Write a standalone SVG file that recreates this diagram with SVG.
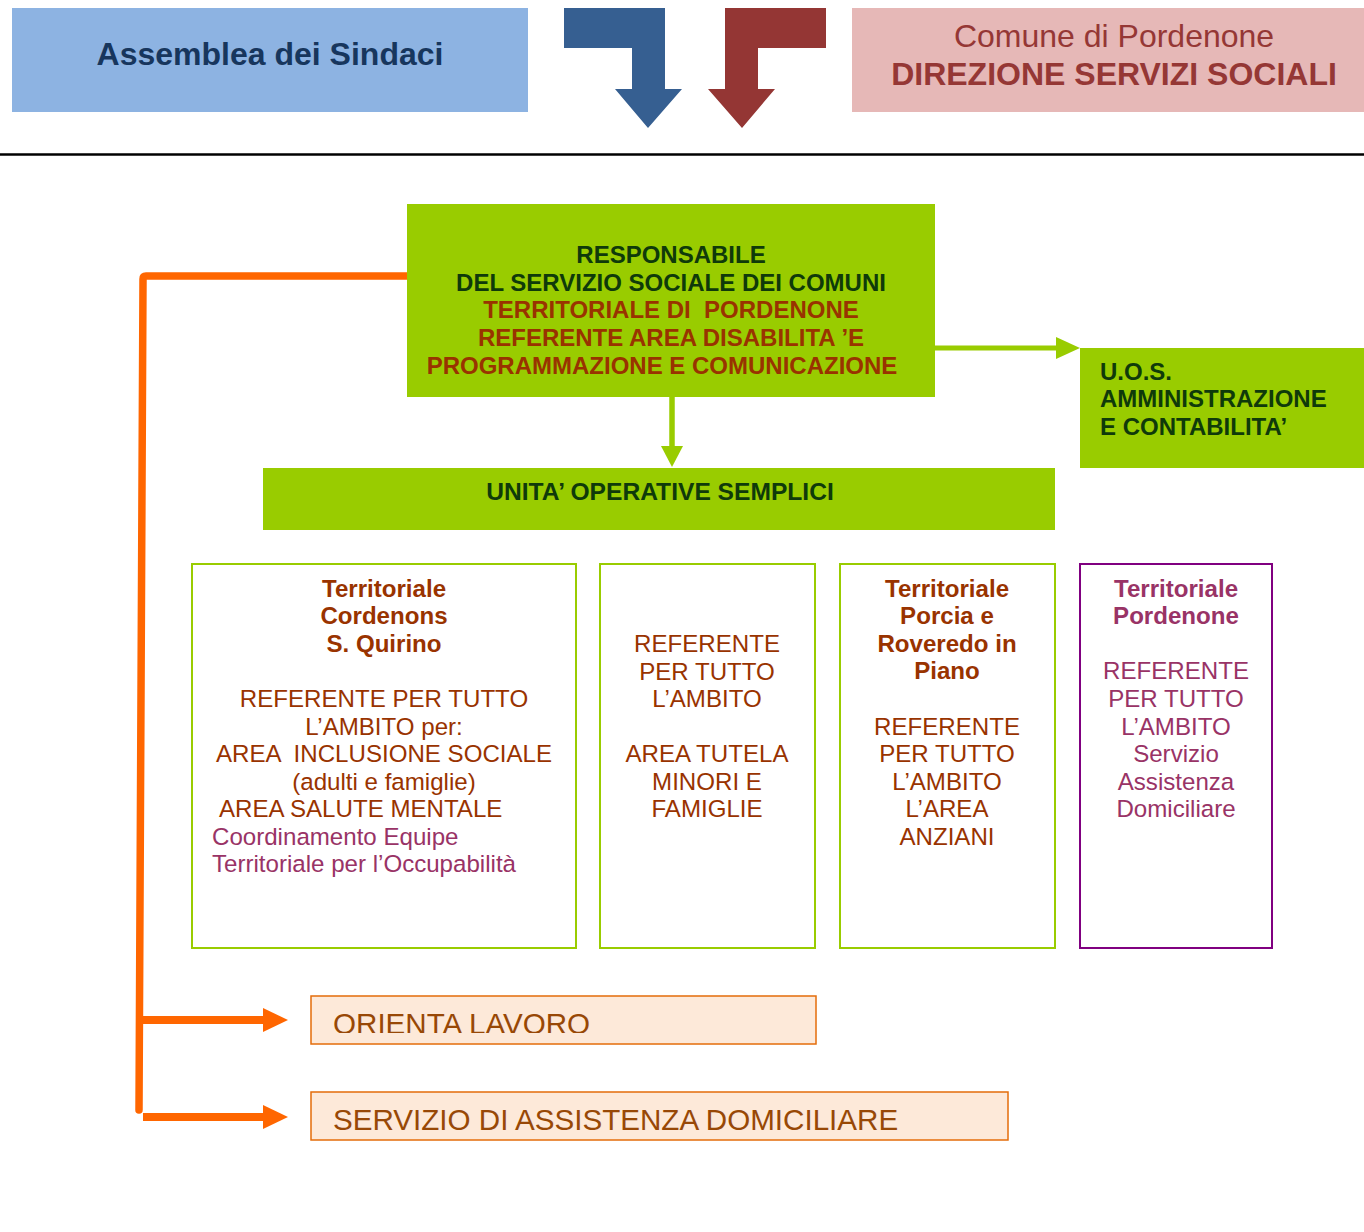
<svg xmlns="http://www.w3.org/2000/svg" width="1364" height="1232" viewBox="0 0 1364 1232">
<style>
text{font-family:"Liberation Sans",Arial,sans-serif}
.b{font-weight:bold}
.c{text-anchor:middle}
.dg{fill:#0F3A0A}
.br{fill:#993300}
.pu{fill:#993366}
.green{fill:#99CC00}
.ubox{fill:#fff;stroke:#99CC00;stroke-width:2}
.obox{fill:#FDE9D9;stroke:#E46C0A;stroke-width:1.5}
.f24{font-size:24.1px}
.f23{font-size:24px}
.f29{font-size:29.6px}
</style>
<defs>
<clipPath id="clipOL"><rect x="311" y="996" width="506" height="37"/></clipPath>
</defs>
<rect width="1364" height="1232" fill="#fff"/>

<g id="assemblea">
<rect x="12" y="8" width="516" height="104" fill="#8DB3E2"/>
<text x="270" y="65" class="b c" font-size="32" fill="#17365D">Assemblea dei Sindaci</text>
</g>
<g id="arrow-blue">
<polygon points="564,8 665,8 665,89 682,89 648,128 615,89 632,89 632,48 564,48" fill="#365F91"/>
</g>
<g id="arrow-red">
<polygon points="826,8 725,8 725,89 708,89 742,128 775,89 758,89 758,48 826,48" fill="#943634"/>
</g>
<g id="comune">
<rect x="852" y="8" width="512" height="104" fill="#E6B8B7"/>
<text x="1114" y="47" class="c" font-size="32" fill="#953735">Comune di Pordenone</text>
<text x="1114" y="85" class="b c" font-size="32" fill="#953735">DIREZIONE SERVIZI SOCIALI</text>
</g>
<line x1="0" y1="154.5" x2="1364" y2="154.5" stroke="#000" stroke-width="2.5"/>

<g id="connectors">
<path d="M407,276 H146 Q143,276 143,279 L139,1110" fill="none" stroke="#FF6600" stroke-width="7.5" stroke-linecap="round" stroke-linejoin="round"/>
<line x1="143" y1="1020" x2="265" y2="1020" stroke="#FF6600" stroke-width="8"/>
<polygon points="263,1008 288,1020 263,1032" fill="#FF6600"/>
<line x1="143" y1="1117" x2="265" y2="1117" stroke="#FF6600" stroke-width="8"/>
<polygon points="263,1105 288,1117 263,1129" fill="#FF6600"/>
<line x1="935" y1="348" x2="1060" y2="348" stroke="#99CC00" stroke-width="5"/>
<polygon points="1056,337 1080,348 1056,359" fill="#99CC00"/>
<line x1="672" y1="397" x2="672" y2="450" stroke="#99CC00" stroke-width="5.5"/>
<polygon points="661,446 683,446 672,467" fill="#99CC00"/>
</g>

<g id="responsabile">
<rect x="407" y="204" width="528" height="193" class="green"/>
<text x="671" y="263" class="b c dg f23">RESPONSABILE</text>
<text x="671" y="291" class="b c dg f23">DEL SERVIZIO SOCIALE DEI COMUNI</text>
<text x="671" y="318" class="b c br f23" xml:space="preserve">TERRITORIALE DI  PORDENONE</text>
<text x="671" y="346" class="b c br f23">REFERENTE AREA DISABILITA ’E</text>
<text x="662" y="374" class="b c br f23">PROGRAMMAZIONE E COMUNICAZIONE</text>
</g>

<g id="uos">
<rect x="1080" y="348" width="284" height="120" class="green"/>
<text x="1100" y="380" class="b dg f23">U.O.S.</text>
<text x="1100" y="407" class="b dg f23">AMMINISTRAZIONE</text>
<text x="1100" y="435" class="b dg f23">E CONTABILITA’</text>
</g>

<g id="unita">
<rect x="263" y="468" width="792" height="62" class="green"/>
<text x="660" y="500" class="b c dg" font-size="24.6">UNITA’ OPERATIVE SEMPLICI</text>
</g>

<g id="cordenons">
<rect x="192" y="564" width="384" height="384" class="ubox"/>
<text class="b c br f24"><tspan x="384" y="597">Territoriale</tspan><tspan x="384" y="624">Cordenons</tspan><tspan x="384" y="652">S. Quirino</tspan></text>
<text class="c br f24" xml:space="preserve"><tspan x="384" y="707">REFERENTE PER TUTTO</tspan><tspan x="384" y="735">L’AMBITO per:</tspan><tspan x="384" y="762">AREA  INCLUSIONE SOCIALE</tspan><tspan x="384" y="790">(adulti e famiglie)</tspan></text>
<text x="219" y="817" class="br f24">AREA SALUTE MENTALE</text>
<text class="pu f24"><tspan x="212" y="845">Coordinamento Equipe</tspan><tspan x="212" y="872">Territoriale per l’Occupabilità</tspan></text>
</g>

<g id="tutela">
<rect x="600" y="564" width="215" height="384" class="ubox"/>
<text class="c br f24"><tspan x="707" y="652">REFERENTE</tspan><tspan x="707" y="680">PER TUTTO</tspan><tspan x="707" y="707">L’AMBITO</tspan><tspan x="707" y="762">AREA TUTELA</tspan><tspan x="707" y="790">MINORI E</tspan><tspan x="707" y="817">FAMIGLIE</tspan></text>
</g>

<g id="porcia">
<rect x="840" y="564" width="215" height="384" class="ubox"/>
<text class="b c br f24"><tspan x="947" y="597">Territoriale</tspan><tspan x="947" y="624">Porcia e</tspan><tspan x="947" y="652">Roveredo in</tspan><tspan x="947" y="679">Piano</tspan></text>
<text class="c br f24"><tspan x="947" y="735">REFERENTE</tspan><tspan x="947" y="762">PER TUTTO</tspan><tspan x="947" y="790">L’AMBITO</tspan><tspan x="947" y="817">L’AREA</tspan><tspan x="947" y="845">ANZIANI</tspan></text>
</g>

<g id="pordenone">
<rect x="1080" y="564" width="192" height="384" fill="#fff" stroke="#800080" stroke-width="2"/>
<text class="b c pu f24"><tspan x="1176" y="597">Territoriale</tspan><tspan x="1176" y="624">Pordenone</tspan></text>
<text class="c pu f24"><tspan x="1176" y="679">REFERENTE</tspan><tspan x="1176" y="707">PER TUTTO</tspan><tspan x="1176" y="735">L’AMBITO</tspan><tspan x="1176" y="762">Servizio</tspan><tspan x="1176" y="790">Assistenza</tspan><tspan x="1176" y="817">Domiciliare</tspan></text>
</g>

<g id="orienta">
<rect x="311" y="996" width="505" height="48" class="obox"/>
<text x="333" y="1034" class="f29" fill="#984806" clip-path="url(#clipOL)">ORIENTA LAVORO</text>
</g>

<g id="sad">
<rect x="311" y="1092" width="697" height="48" class="obox"/>
<text x="333" y="1130" class="f29" fill="#984806">SERVIZIO DI ASSISTENZA DOMICILIARE</text>
</g>
</svg>
